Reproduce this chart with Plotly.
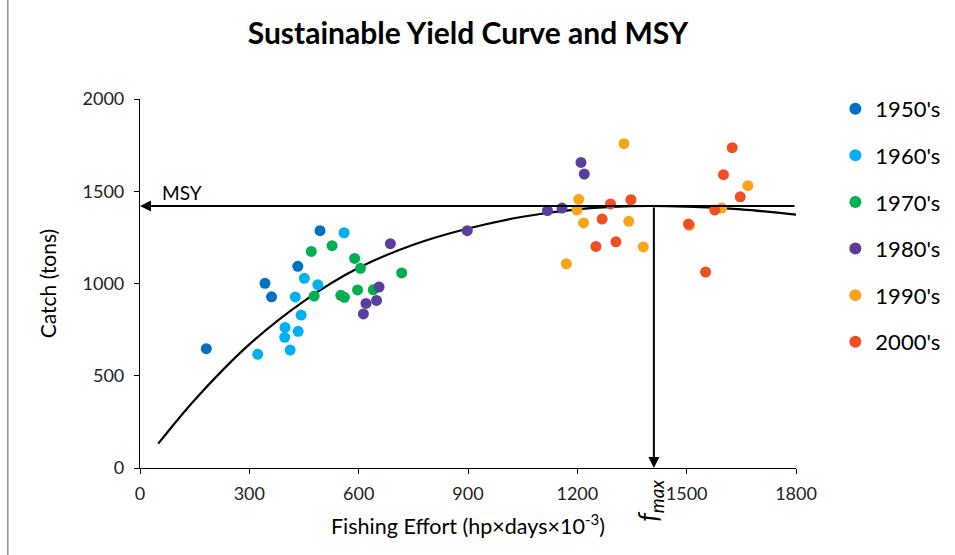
import plotly.graph_objects as go

# ---- data ----
effort_1950 = [182, 343, 361, 433, 494]
catch_1950 = [647, 1001, 928, 1093, 1286]

effort_1960 = [560, 451, 488, 426, 442, 398, 434, 397, 412, 323]
catch_1960 = [1275, 1028, 993, 927, 829, 762, 741, 708, 639, 616]

effort_1970 = [470, 527, 589, 605, 718, 478, 551, 561, 597, 640]
catch_1970 = [1174, 1205, 1136, 1082, 1057, 932, 936, 925, 965, 966]

effort_1980 = [656, 620, 649, 613, 687, 898, 1118, 1158, 1210, 1219]
catch_1980 = [981, 892, 908, 835, 1216, 1286, 1395, 1409, 1656, 1593]

effort_1990 = [1328, 1204, 1199, 1217, 1341, 1381, 1170, 1668, 1596, 1508]
catch_1990 = [1758, 1456, 1398, 1328, 1337, 1198, 1107, 1530, 1409, 1315]

effort_2000 = [1625, 1601, 1647, 1577, 1505, 1552, 1291, 1347, 1268, 1251, 1306]
catch_2000 = [1736, 1590, 1470, 1398, 1322, 1062, 1431, 1454, 1349, 1201, 1226]

decades = ["1950's", "1960's", "1970's", "1980's", "1990's", "2000's"]
colors = ["#0070C0", "#00B0F0", "#00B050", "#5A3E9E", "#F9A51B", "#F04E23"]

# yield curve
curve_effort = [50, 150, 300, 450, 600, 750, 900, 1050, 1200, 1350, 1500, 1650, 1800]
curve_catch = [132, 369, 670, 905, 1085, 1210, 1298, 1362, 1402, 1419, 1417, 1402, 1373]

msy = 1420
f_max = 1410

x_ticks = [0, 300, 600, 900, 1200, 1500, 1800]
y_ticks = [0, 500, 1000, 1500, 2000]

FONT = "Lato"

fig = go.Figure()

fig.add_trace(go.Scatter(
    x=curve_effort, y=curve_catch, mode="lines", line=dict(color="black", width=2.2, shape="spline"),
    showlegend=False, hoverinfo="skip"))

series = [(effort_1950, catch_1950), (effort_1960, catch_1960), (effort_1970, catch_1970),
          (effort_1980, catch_1980), (effort_1990, catch_1990), (effort_2000, catch_2000)]
for (xs, ys), name, col in zip(series, decades, colors):
    fig.add_trace(go.Scatter(
        x=xs, y=ys, mode="markers", name=name, legendgroup=name,
        marker=dict(color=col, size=11, line=dict(width=0))))

# MSY horizontal arrow
fig.add_annotation(x=0, y=msy, ax=1800, ay=msy, xref="x", yref="y", axref="x", ayref="y",
                   text="", showarrow=True, arrowhead=2, arrowsize=1.1, arrowwidth=2, arrowcolor="black")
# f_max vertical arrow
fig.add_annotation(x=f_max, y=0, ax=f_max, ay=msy, xref="x", yref="y", axref="x", ayref="y",
                   text="", showarrow=True, arrowhead=2, arrowsize=1.1, arrowwidth=2, arrowcolor="black")
fig.add_annotation(x=55, y=msy, xref="x", yref="y", text="MSY", showarrow=False,
                   xanchor="left", yanchor="bottom", yshift=0, font=dict(family=FONT, size=19, color="black"))
fig.add_annotation(x=f_max, y=0, xref="x", yref="y", text="<i>f<sub>max</sub></i>", showarrow=False,
                   textangle=-90, xanchor="center", yanchor="top", yshift=-10, xshift=-5,
                   font=dict(family=FONT, size=27, color="black"))

# left frame line
fig.add_shape(type="line", xref="paper", yref="paper", x0=-0.2014, x1=-0.2014, y0=-0.24, y1=1.27,
              line=dict(color="#555555", width=1))

fig.update_layout(
    width=955, height=555,
    margin=dict(l=140, r=159, t=99, b=87, autoexpand=False),
    paper_bgcolor="white", plot_bgcolor="white",
    title=dict(text="<b>Sustainable Yield Curve and MSY</b>", x=468 / 955, xref="container", xanchor="center",
               y=0.94, yanchor="middle", font=dict(family=FONT, size=30, color="black")),
    font=dict(family=FONT, color="black"),
    legend=dict(x=1.060, y=1.03, xanchor="left", yanchor="top", font=dict(family=FONT, size=22, color="black"),
                tracegroupgap=15, itemsizing="constant", bgcolor="rgba(0,0,0,0)", borderwidth=0),
    showlegend=True,
)
fig.update_xaxes(range=[0, 1800], tickvals=x_ticks, ticktext=[str(v) for v in x_ticks],
                 showgrid=False, zeroline=False, showline=True, linecolor="black", linewidth=1.2,
                 ticks="outside", ticklen=5, tickcolor="black", ticklabelstandoff=4,
                 tickfont=dict(family=FONT, size=18, color="#222"),
                 title=dict(text="Fishing Effort (hp×days×10<sup>-3</sup>)", font=dict(family=FONT, size=21.5, color="black"),
                            standoff=16))
fig.update_yaxes(range=[0, 2000], tickvals=y_ticks, ticktext=[str(v) for v in y_ticks],
                 showgrid=False, zeroline=False, showline=True, linecolor="black", linewidth=1.2,
                 ticks="outside", ticklen=5, tickcolor="black", ticklabelstandoff=6,
                 tickfont=dict(family=FONT, size=18, color="#222"),
                 title=dict(text="Catch (tons)", font=dict(family=FONT, size=21, color="black"), standoff=20))

fig.write_html("out.html", config={"displayModeBar": False},
               post_script="document.body.style.margin='0';")
